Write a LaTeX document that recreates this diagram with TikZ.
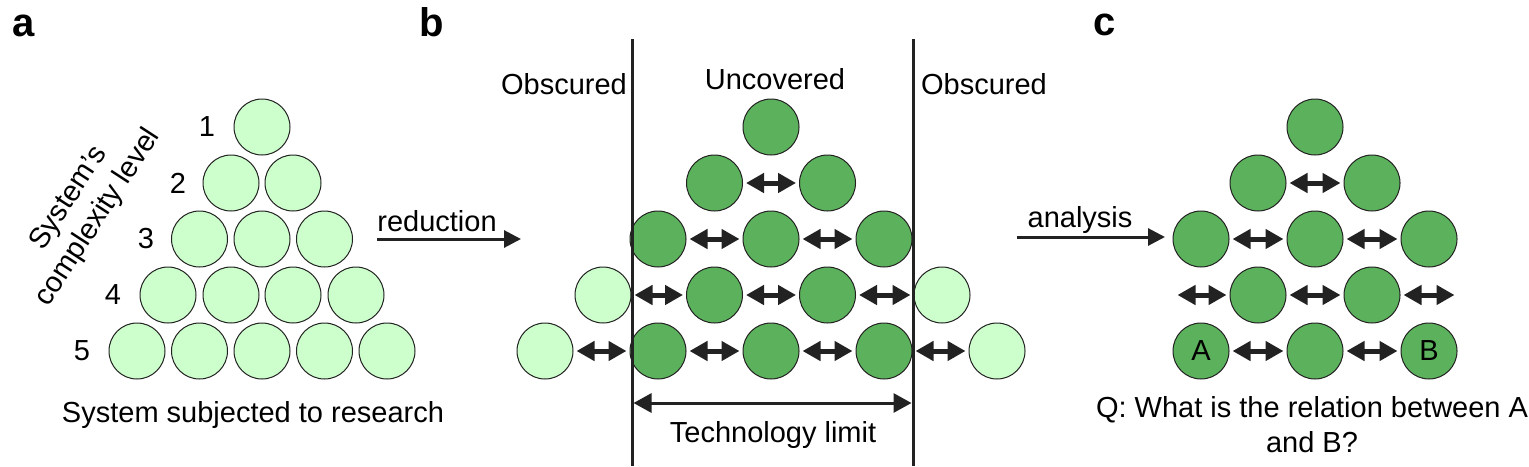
\documentclass[tikz,border=0pt]{standalone}
\usepackage{fontspec}
\setmainfont{Liberation Sans}
\usetikzlibrary{arrows.meta}

\definecolor{palegreen}{HTML}{CCFFCC}
\definecolor{leafgreen}{HTML}{5CB15C}
\definecolor{inkgray}{HTML}{222222}

\begin{document}
\begin{tikzpicture}[x=0.5pt, y=-0.5pt,
    every node/.style={font=\fontsize{14.5}{17.5}\selectfont},
    lightball/.style={draw=inkgray, line width=0.5pt, fill=palegreen, circle, inner sep=0pt, minimum size=28pt},
    darkball/.style={draw=inkgray, line width=0.5pt, fill=leafgreen, circle, inner sep=0pt, minimum size=28pt},
    rel/.style={draw=inkgray, line width=2.5pt, {Triangle[length=9pt,width=9.5pt]}-{Triangle[length=9pt,width=9.5pt]}, shorten <=1.5pt, shorten >=1.5pt},
    flow/.style={draw=inkgray, line width=1.5pt, -{Triangle[length=8.5pt,width=8.5pt]}},
    limit/.style={draw=inkgray, line width=1.5pt},
    panel/.style={font=\fontsize{20}{24}\selectfont\bfseries, anchor=base}]

    \useasboundingbox (0,0) rectangle (1529,466);

    % Panel labels
    \node[panel] at (24, 36) (la) {a};
    \node[panel] at (432, 36) (lb) {b};
    \node[panel] at (1105, 35) (lc) {c};

    % Panel a: the system
    \node[lightball] at (262, 127) (a11) {};
    \node[lightball] at (231, 183) (a21) {};
    \node[lightball] at (293, 183) (a22) {};
    \node[lightball] at (199.5, 239) (a31) {};
    \node[lightball] at (262, 239) (a32) {};
    \node[lightball] at (324.5, 239) (a33) {};
    \node[lightball] at (168, 295) (a41) {};
    \node[lightball] at (231, 295) (a42) {};
    \node[lightball] at (293, 295) (a43) {};
    \node[lightball] at (356, 295) (a44) {};
    \node[lightball] at (137, 351) (a51) {};
    \node[lightball] at (199.5, 351) (a52) {};
    \node[lightball] at (262, 351) (a53) {};
    \node[lightball] at (324.5, 351) (a54) {};
    \node[lightball] at (387, 351) (a55) {};

    \node at (207, 127) (n1) {1};
    \node at (178, 183) (n2) {2};
    \node at (146, 239) (n3) {3};
    \node at (113, 295) (n4) {4};
    \node at (82, 351) (n5) {5};

    \node[rotate=57, align=center] at (84, 208) (axis) {System’s\\complexity level};
    \node[anchor=base] at (253, 422) (syslabel) {System subjected to research};

    % Reduction
    \coordinate (red0) at (377, 239);
    \coordinate (red1) at (521, 239);
    \draw[flow] (red0) -- (red1);
    \node[anchor=base] at (437, 231) (redlabel) {reduction};

    % Panel b: uncovered and obscured parts
    \node[darkball] at (771, 127) (b11) {};
    \node[darkball] at (714.5, 183) (b21) {};
    \node[darkball] at (827.5, 183) (b22) {};
    \node[darkball] at (658, 239) (b31) {};
    \node[darkball] at (771, 239) (b32) {};
    \node[darkball] at (884, 239) (b33) {};
    \node[lightball] at (603, 295) (b41) {};
    \node[darkball] at (714.5, 295) (b42) {};
    \node[darkball] at (827.5, 295) (b43) {};
    \node[lightball] at (942, 295) (b44) {};
    \node[lightball] at (545, 351) (b51) {};
    \node[darkball] at (658, 351) (b52) {};
    \node[darkball] at (771, 351) (b53) {};
    \node[darkball] at (884, 351) (b54) {};
    \node[lightball] at (997, 351) (b55) {};

    \draw[rel] (b21) -- (b22);
    \draw[rel] (b31) -- (b32);
    \draw[rel] (b32) -- (b33);
    \draw[rel] (b41) -- (b42);
    \draw[rel] (b42) -- (b43);
    \draw[rel] (b43) -- (b44);
    \draw[rel] (b51) -- (b52);
    \draw[rel] (b52) -- (b53);
    \draw[rel] (b53) -- (b54);
    \draw[rel] (b54) -- (b55);

    % Technology limits
    \coordinate (lim1top) at (632, 39);
    \coordinate (lim1bot) at (632, 466);
    \coordinate (lim2top) at (913, 39);
    \coordinate (lim2bot) at (913, 466);
    \draw[limit] (lim1top) -- (lim1bot);
    \draw[limit] (lim2top) -- (lim2bot);
    \coordinate (tech1) at (632, 403);
    \coordinate (tech2) at (913, 403);
    \draw[limit, {Triangle[length=9pt,width=9.5pt]}-{Triangle[length=9pt,width=9.5pt]}, shorten <=0.75pt, shorten >=0.75pt] (tech1) -- (tech2);

    \node[anchor=base] at (564, 94) (obs1) {Obscured};
    \node[anchor=base] at (775, 89) (unc) {Uncovered};
    \node[anchor=base] at (984, 94) (obs2) {Obscured};
    \node[anchor=base] at (773, 442) (techlabel) {Technology limit};

    % Analysis
    \coordinate (ana0) at (1017, 237);
    \coordinate (ana1) at (1165, 237);
    \draw[flow] (ana0) -- (ana1);
    \node[anchor=base] at (1080, 227) (analabel) {analysis};

    % Panel c: relations
    \node[darkball] at (1315, 127) (c11) {};
    \node[darkball] at (1258, 183) (c21) {};
    \node[darkball] at (1372, 183) (c22) {};
    \node[darkball] at (1201, 239) (c31) {};
    \node[darkball] at (1315, 239) (c32) {};
    \node[darkball] at (1429, 239) (c33) {};
    \node[darkball] at (1258, 295) (c41) {};
    \node[darkball] at (1372, 295) (c42) {};
    \node[darkball] at (1201, 351) (c51) {A};
    \node[darkball] at (1315, 351) (c52) {};
    \node[darkball] at (1429, 351) (c53) {B};
    \coordinate (c4l) at (1174.5, 295);
    \coordinate (c4r) at (1457.5, 295);

    \draw[rel] (c21) -- (c22);
    \draw[rel] (c31) -- (c32);
    \draw[rel] (c32) -- (c33);
    \draw[rel] (c4l) -- (c41);
    \draw[rel] (c41) -- (c42);
    \draw[rel] (c42) -- (c4r);
    \draw[rel] (c51) -- (c52);
    \draw[rel] (c52) -- (c53);

    \node[align=center, anchor=base] at (1312, 452) (question) {Q: What is the relation between A\\and B?};

\end{tikzpicture}
\end{document}
